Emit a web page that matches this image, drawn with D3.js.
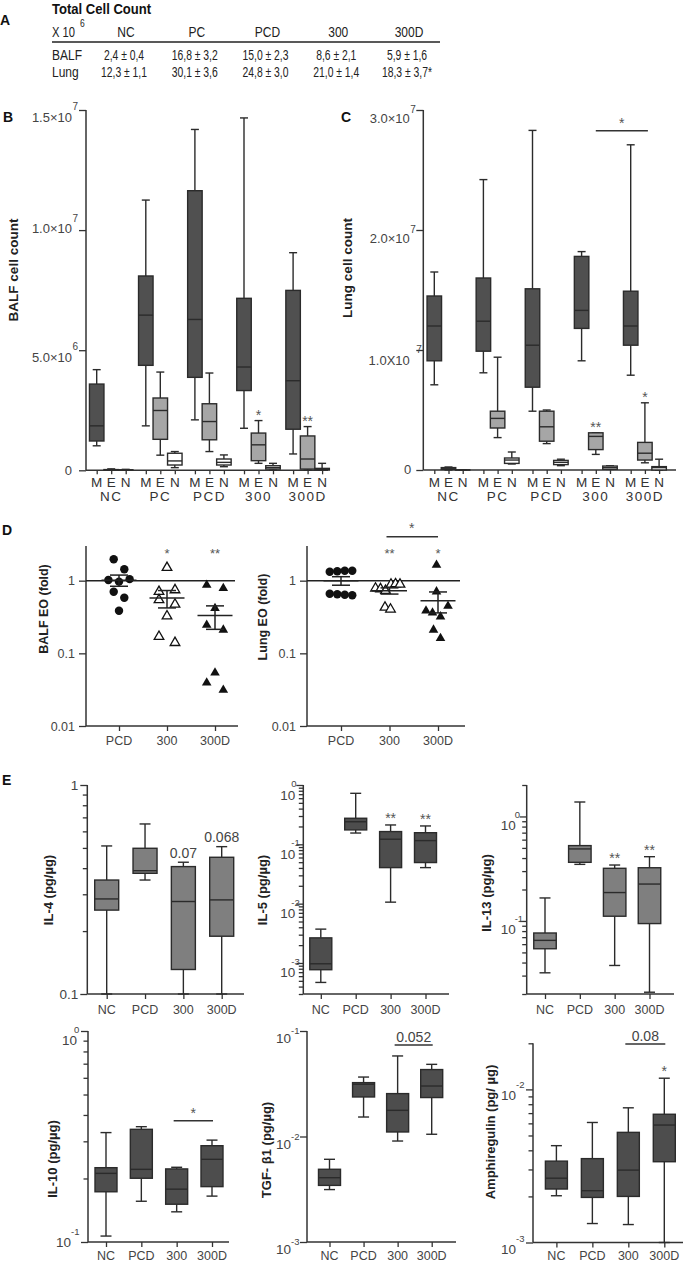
<!DOCTYPE html>
<html><head><meta charset="utf-8">
<script src="https://cdn.jsdelivr.net/npm/d3@7"></script>
<style>
body{margin:0;background:#fff;}
svg{display:block;}
</style></head><body>
<svg id="c" width="685" height="1264"></svg>
<script>
// ================= DATA =================
const tableCols = ["NC","PC","PCD","300","300D"];
const tableRows = ["BALF","Lung"];
const tableBALF = ["2,4 ± 0,4","16,8 ± 3,2","15,0 ± 2,3","8,6 ± 2,1","5,9 ± 1,6"];
const tableLung = ["12,3 ± 1,1","30,1 ± 3,6","24,8 ± 3,0","21,0 ± 1,4","18,3 ± 3,7*"];

const cellGroups = ["NC","PC","PCD","300","300D"];
const cellTypes = ["M","E","N"];
// box stats: [min, q1, median, q3, max]
const balfM = [[1.02e6,1.22e6,1.85e6,3.59e6,4.19e6],[1.85e6,4.37e6,6.46e6,8.09e6,11.25e6],[2.10e6,3.87e6,6.28e6,11.64e6,14.19e6],[1.75e6,3.32e6,4.30e6,7.16e6,14.67e6],[0.68e6,1.71e6,3.73e6,7.49e6,9.06e6]];
const balfE = [[0,0.01e6,0.02e6,0.03e6,0.06e6],[0.63e6,1.29e6,2.49e6,3.01e6,4.09e6],[0.78e6,1.27e6,2.03e6,2.77e6,4.05e6],[0.29e6,0.40e6,1.06e6,1.55e6,2.07e6],[0.01e6,0.05e6,0.47e6,1.43e6,1.82e6]];
const balfN = [[0,0.01e6,0.01e6,0.02e6,0.04e6],[0.11e6,0.22e6,0.39e6,0.71e6,0.78e6],[0.15e6,0.22e6,0.33e6,0.47e6,0.64e6],[0.01e6,0.05e6,0.11e6,0.19e6,0.29e6],[0,0.01e6,0.04e6,0.08e6,0.29e6]];
const balfStarsE = ["","","","*","**"];
const lungM = [[7.1e6,9.1e6,12.0e6,14.5e6,16.5e6],[8.1e6,9.9e6,12.4e6,16.0e6,24.2e6],[4.9e6,6.9e6,10.4e6,15.1e6,28.3e6],[9.1e6,11.8e6,13.3e6,17.8e6,18.2e6],[7.9e6,10.4e6,12.0e6,14.9e6,27.1e6]];
const lungE = [[0,0.05e6,0.1e6,0.2e6,0.25e6],[2.7e6,3.5e6,4.3e6,4.9e6,9.4e6],[2.2e6,2.4e6,3.6e6,4.9e6,5.0e6],[1.3e6,1.7e6,2.8e6,3.1e6,3.1e6],[0.6e6,0.83e6,1.4e6,2.3e6,5.6e6]];
const lungN = [[0,0,0,0,0],[0.5e6,0.55e6,0.83e6,1.0e6,1.5e6],[0.36e6,0.45e6,0.64e6,0.8e6,0.9e6],[0.05e6,0.06e6,0.2e6,0.33e6,0.35e6],[0,0,0.2e6,0.28e6,0.9e6]];
const lungStarsE = ["","","","**","*"];

const eoGroups = ["PCD","300","300D"];
const balfEO = [[1.97,1.44,1.02,0.97,1.05,0.706,0.583,0.386],[1.51,0.706,0.745,0.543,0.473,0.326,0.17,0.14],[0.873,0.785,0.417,0.246,0.21,0.054,0.0394,0.0313]];
const balfEOSpread = [[-1,1,-2,0,2,-1,1,0],[0,-1,1,-1,1,0,-1,1],[-1,1,0,-1,1,0,-1,1]];
const balfEOStars = ["","*","**"];
const lungEO = [[1.33,1.35,1.37,1.37,0.66,0.65,0.64,0.63],[0.786,0.769,0.728,0.892,0.90,0.892,0.43,0.404],[1.645,0.706,0.448,0.386,0.362,0.32,0.21,0.161]];
const lungEOSpread = [[-1.5,-0.5,0.5,1.5,-1.5,-0.5,0.5,1.5],[-2.8,-1.8,-0.8,0.3,1.2,2.1,-0.9,0.2],[-0.3,-0.3,2,-2.4,-1.1,0.5,-0.9,0.5]];
const lungEOStars = ["","**","*"];

const cytoGroups = ["NC","PCD","300","300D"];
const il4  = [[0.1,0.252,0.285,0.351,0.511],[0.351,0.378,0.389,0.498,0.651],[0.1,0.131,0.277,0.407,0.427],[0.1,0.189,0.282,0.451,0.507]];
const il4Notes = ["","","0.07","0.068"];
const il5  = [[0.00047,0.00077,0.00097,0.00265,0.00372],[0.155,0.175,0.24,0.275,0.724],[0.0106,0.0405,0.122,0.164,0.212],[0.0405,0.0493,0.1155,0.157,0.204]];
const il5Notes = ["","","**","**"];
const il13 = [[0.0319,0.0542,0.0652,0.0767,0.166],[0.348,0.364,0.489,0.526,1.375],[0.0375,0.111,0.187,0.319,0.343],[0.0208,0.0944,0.2255,0.323,0.412]];
const il13Notes = ["","","**","**"];
const il10 = [[0.1067,0.173,0.2115,0.225,0.330],[0.156,0.2005,0.221,0.342,0.352],[0.139,0.151,0.178,0.222,0.226],[0.165,0.183,0.2465,0.286,0.304]];
const il10Bar = "*";
const tgf  = [[0.00314,0.00344,0.00407,0.00489,0.00608],[0.0153,0.0237,0.0313,0.0324,0.0366],[0.00906,0.01104,0.0177,0.0255,0.058],[0.0105,0.0234,0.0301,0.0431,0.0483]];
const tgfBar = "0.052";
const amph = [[0.00202,0.002235,0.00263,0.0034,0.00429],[0.00133,0.00197,0.00218,0.00353,0.00608],[0.00131,0.002,0.00297,0.00524,0.00758],[0.001,0.00337,0.00585,0.00688,0.01183]];
const amphNotes = ["","","","*"];
const amphBar = "0.08";

// ================= DRAWING =================
const svg = d3.select("#c");
const FONT = '"Liberation Sans", Arial, Helvetica, sans-serif';
const INK = "#2b2b2b", AX = "#333", LBL = "#444";

function txt(g, x, y, s, o = {}) {
  const t = g.append("text").attr("x", x).attr("y", y).text(s)
    .attr("font-size", o.size || 12).attr("font-weight", o.weight || "normal")
    .attr("fill", o.fill || LBL).attr("text-anchor", o.anchor || "start")
    .attr("font-family", FONT);
  if (o.ls) t.attr("letter-spacing", o.ls);
  if (o.squeeze) {
    const L = t.node().getComputedTextLength();
    t.attr("textLength", L * o.squeeze).attr("lengthAdjust", "spacingAndGlyphs");
  }
  return t;
}
function vtxt(g, x, y, s, o = {}) {
  return g.append("text").attr("transform", `translate(${x},${y}) rotate(-90)`).text(s)
    .attr("font-size", o.size || 13).attr("font-weight", o.weight || "bold")
    .attr("fill", o.fill || "#222").attr("text-anchor", "middle").attr("font-family", FONT);
}
function line(g, x1, y1, x2, y2, w = 1.4, c = AX) {
  return g.append("line").attr("x1", x1).attr("y1", y1).attr("x2", x2).attr("y2", y2)
    .attr("stroke", c).attr("stroke-width", w);
}
function star(g, x, yc, s, size = 14) { // yc = visual centre of asterisk
  return txt(g, x, yc + size * 0.56, s, {size, anchor: "middle", fill: "#555"});
}
function boxes(g, data, xf, w, y, fill, cap) {
  data.forEach((s, i) => {
    const cx = xf(i); const [lo, q1, md, q3, hi] = s;
    const gg = g.append("g");
    line(gg, cx, y(hi), cx, y(q3), 1.4, INK);
    line(gg, cx, y(q1), cx, y(lo), 1.4, INK);
    line(gg, cx - cap / 2, y(hi), cx + cap / 2, y(hi), 1.4, INK);
    line(gg, cx - cap / 2, y(lo), cx + cap / 2, y(lo), 1.4, INK);
    gg.append("rect").attr("x", cx - w / 2).attr("y", y(q3)).attr("width", w)
      .attr("height", Math.max(0.01, y(q1) - y(q3))).attr("fill", fill)
      .attr("stroke", INK).attr("stroke-width", 1.4);
    line(gg, cx - w / 2, y(md), cx + w / 2, y(md), 1.4, INK);
  });
}
function styleAxis(a) {
  a.select(".domain").remove();
  a.selectAll(".tick line").attr("stroke", AX).attr("stroke-width", 1.3);
}

// ---------- Panel A ----------
(function () {
  const g = svg.append("g");
  txt(g, 0, 25, "A", {size: 14, weight: "bold", fill: "#111"});
  txt(g, 52, 14, "Total Cell Count", {size: 15, weight: "bold", fill: "#111", squeeze: 0.87});
  txt(g, 52, 37, "X 10", {size: 14, fill: "#222", squeeze: 0.8});
  txt(g, 80, 27, "6", {size: 10, fill: "#222", squeeze: 0.85});
  const cx = d3.scalePoint().domain(tableCols).range([126, 409]);
  tableCols.forEach(c => txt(g, cx(c), 37, c, {size: 15, anchor: "middle", fill: "#222", squeeze: 0.8}));
  line(g, 52, 42, 440, 42, 1.6, "#222");
  const rowsVals = [tableBALF, tableLung];
  const rowY = d3.scalePoint().domain(tableRows).range([60, 77]);
  tableRows.forEach((r, ri) => {
    txt(g, 52, rowY(r), r, {size: 15, fill: "#222", squeeze: 0.8});
    tableCols.forEach((c, ci) => txt(g, cx(c) - 2, rowY(r), rowsVals[ri][ci], {size: 14, anchor: "middle", fill: "#222", squeeze: 0.74}));
  });
})();

// ---------- Panels B & C ----------
function cellPanel(cfg) {
  const g = svg.append("g");
  txt(g, cfg.letterX, 122, cfg.letter, {size: 14, weight: "bold", fill: "#111"});
  const y = d3.scaleLinear().domain([0, cfg.max]).range([cfg.y0, cfg.y1]);
  const gx = d3.scalePoint().domain(cellGroups).range([cfg.ax + 25.2, cfg.ax + 25.2 + 4 * 49.1]);
  const tx = d3.scalePoint().domain(cellTypes).range([-cfg.slot, cfg.slot]);
  const keys = [], pos = [];
  cellGroups.forEach(gr => cellTypes.forEach(t => { keys.push(gr + "|" + t); pos.push(gx(gr) + tx(t)); }));
  const xs = d3.scaleOrdinal().domain(keys).range(pos);
  g.append("g").attr("transform", `translate(${cfg.ax},0)`)
    .call(d3.axisLeft(y).tickValues(cfg.ticks.map(t => t.v)).tickSize(7).tickSizeOuter(0).tickFormat(""))
    .call(styleAxis);
  line(g, cfg.ax, cfg.y1, cfg.ax, cfg.y0, 1.5);
  cfg.ticks.forEach(t => {
    const yy = y(t.v);
    txt(g, cfg.ax + t.bx, yy + t.by, t.base, {size: 13, anchor: "end"});
    if (t.sup) txt(g, cfg.ax + t.sx, yy + t.sy, t.sup, {size: 10});
  });
  g.append("g").attr("transform", `translate(0,${cfg.y0})`)
    .call(d3.axisBottom(xs).tickSize(4).tickFormat("")).call(styleAxis);
  line(g, cfg.ax, cfg.y0, cfg.xEnd, cfg.y0, 1.5);
  keys.forEach(k => txt(g, xs(k), cfg.y0 + 17, k.split("|")[1], {size: 13.5, anchor: "middle", fill: "#333"}));
  cellGroups.forEach(gr => txt(g, gx(gr), cfg.y0 + 31, gr, {size: 13.5, anchor: "middle", fill: "#333", ls: 1.5}));
  const fills = {M: "#505050", E: "#a6a6a6", N: "#ffffff"};
  const sets = {M: cfg.M, E: cfg.E, N: cfg.N};
  cellTypes.forEach(t => boxes(g, sets[t], i => xs(cellGroups[i] + "|" + t), 14.5, y, fills[t], 8));
  cfg.starsE.forEach((s, i) => { if (s) star(g, xs(cellGroups[i] + "|E"), y(cfg.E[i][4]) - 8.5, s); });
  if (cfg.bar) {
    const x1 = xs(cfg.bar[0] + "|E"), x2 = xs(cfg.bar[1] + "|E") + 3;
    line(g, x1, cfg.bar[2], x2, cfg.bar[2], 1.5);
    star(g, (x1 + x2) / 2, cfg.bar[2] - 11, cfg.bar[3]);
  }
  vtxt(g, cfg.labX, cfg.labY, cfg.label, {size: 13.5});
}
cellPanel({letter: "B", letterX: 3, ax: 86, y0: 470.3, y1: 110, max: 1.5e7, xEnd: 328, slot: 14.5,
  M: balfM, E: balfE, N: balfN, starsE: balfStarsE, label: "BALF cell count", labX: 17.5, labY: 270,
  ticks: [{v: 0, base: "0", bx: -14, by: 4.5},
          {v: 5e6, base: "5.0×10", sup: "6", bx: -14, by: 11.5, sx: -13.5, sy: 0},
          {v: 1e7, base: "1.0×10", sup: "7", bx: -14, by: 2.5, sx: -13.5, sy: -8},
          {v: 1.5e7, base: "1.5×10", sup: "7", bx: -14, by: 11.5, sx: -13.5, sy: 0}]});
cellPanel({letter: "C", letterX: 341, ax: 423.3, y0: 470, y1: 110, max: 3e7, xEnd: 676, slot: 14.2,
  M: lungM, E: lungE, N: lungN, starsE: lungStarsE, label: "Lung cell count", labX: 351.5, labY: 268,
  bar: ["300", "300D", 130.7, "*"],
  ticks: [{v: 0, base: "0", bx: -12, by: 4},
          {v: 1e7, base: "1.0X10", sup: "7", bx: -13.5, by: 15, sx: -7, sy: 2.5},
          {v: 2e7, base: "2.0×10", sup: "7", bx: -13.5, by: 13, sx: -13, sy: 3},
          {v: 3e7, base: "3.0×10", sup: "7", bx: -13.5, by: 13, sx: -13, sy: 3}]});

// ---------- Panel D ----------
txt(svg, 2, 535, "D", {size: 14, weight: "bold", fill: "#111"});
function eoPanel(cfg) {
  const g = svg.append("g");
  const y = d3.scaleLog().domain([0.01, 3]).range([726, 546]);
  const x = d3.scalePoint().domain(eoGroups).range(cfg.xr);
  g.append("g").attr("transform", `translate(${cfg.ax},0)`)
    .call(d3.axisLeft(y).tickValues([0.01, 0.1, 1]).tickSize(7).tickFormat("")).call(styleAxis);
  line(g, cfg.ax, y(3), cfg.ax, y(0.01), 1.5);
  [[1, "1"], [0.1, "0.1"], [0.01, "0.01"]].forEach(([v, s]) => txt(g, cfg.ax - 11, y(v) + 4.5, s, {size: 12.5, anchor: "end"}));
  g.append("g").attr("transform", `translate(0,${y(0.01)})`)
    .call(d3.axisBottom(x).tickSize(5).tickFormat("")).call(styleAxis);
  line(g, cfg.ax, y(0.01), cfg.xEnd, y(0.01), 1.5);
  eoGroups.forEach(gr => txt(g, x(gr), 745, gr, {size: 12.5, anchor: "middle"}));
  line(g, cfg.ax, y(1), cfg.refEnd, y(1), 1.5, "#222");
  const circ = d3.symbol().type(d3.symbolCircle).size(56)();
  const tri = d3.symbol().type(d3.symbolTriangle).size(40)();
  cfg.data.forEach((vals, gi) => {
    vals.forEach((v, j) => {
      const px = x(eoGroups[gi]) + cfg.spread[gi][j] * cfg.unit[gi];
      const p = g.append("path").attr("transform", `translate(${px},${y(v)})`)
        .attr("d", gi === 0 ? circ : tri);
      if (gi === 1) p.attr("fill", "#fff").attr("stroke", "#111").attr("stroke-width", 1.3);
      else p.attr("fill", "#111");
    });
    const m = d3.mean(vals), sem = d3.deviation(vals) / Math.sqrt(vals.length);
    const cx = x(eoGroups[gi]);
    line(g, cx - 17.5, y(m), cx + 17.5, y(m), 1.5, "#222");
    line(g, cx, y(m + sem), cx, y(m - sem), 1.5, "#222");
    line(g, cx - 9, y(m + sem), cx + 9, y(m + sem), 1.5, "#222");
    line(g, cx - 9, y(m - sem), cx + 9, y(m - sem), 1.5, "#222");
    if (cfg.stars[gi]) star(g, cx, 550.5, cfg.stars[gi], 13);
  });
  if (cfg.bar) {
    line(g, x("300") - 3, 536.7, x("300D"), 536.7, 1.5);
    star(g, (x("300") + x("300D")) / 2 - 2, 525.5, "*", 14);
  }
  vtxt(g, cfg.labX, cfg.labY, cfg.label, {size: 12.5});
}
eoPanel({ax: 86, xEnd: 238, refEnd: 235, xr: [119, 215], data: balfEO, spread: balfEOSpread, unit: [5.3, 8, 8.3],
  stars: balfEOStars, label: "BALF EO (fold)", labX: 47.5, labY: 609});
eoPanel({ax: 307, xEnd: 465, refEnd: 460, xr: [341, 438], data: lungEO, spread: lungEOSpread, unit: [7.5, 5, 5],
  stars: lungEOStars, bar: true, label: "Lung EO (fold)", labX: 266.5, labY: 617});

// ---------- Panel E ----------
txt(svg, 2, 785, "E", {size: 14, weight: "bold", fill: "#111"});
function cytoPanel(cfg) {
  const g = svg.append("g");
  const y = d3.scaleLog().domain(cfg.dom).range(cfg.rng);
  const x = d3.scalePoint().domain(cytoGroups).range(cfg.xr);
  const bottom = cfg.rng[0], top = cfg.rng[1];
  if (cfg.minor.length)
    g.append("g").attr("transform", `translate(${cfg.ax},0)`)
      .call(d3.axisLeft(y).tickValues(cfg.minor).tickSize(4.5).tickFormat("")).call(styleAxis);
  g.append("g").attr("transform", `translate(${cfg.ax},0)`)
    .call(d3.axisLeft(y).tickValues(cfg.major.map(t => t.v)).tickSize(7).tickFormat("")).call(styleAxis);
  line(g, cfg.ax, top, cfg.ax, bottom, 1.5);
  cfg.major.forEach(t => {
    const yy = y(t.v), o = t.o || cfg.lab;
    txt(g, cfg.ax + o.bx, yy + o.by, t.base, {size: 13.5, anchor: "end"});
    if (t.sup) txt(g, cfg.ax + o.sx, yy + o.sy, t.sup, {size: 9.5});
  });
  g.append("g").attr("transform", `translate(0,${bottom})`)
    .call(d3.axisBottom(x).tickSize(5).tickFormat("")).call(styleAxis);
  line(g, cfg.ax, bottom, cfg.xEnd, bottom, 1.5);
  cytoGroups.forEach(gr => txt(g, x(gr), cfg.lblY, gr, {size: 12.5, anchor: "middle"}));
  boxes(g, cfg.data, i => x(cytoGroups[i]), cfg.bw, y, cfg.fill, 11);
  if (cfg.notes) cfg.notes.forEach((s, i) => {
    if (!s) return;
    const yt = y(cfg.data[i][4]);
    if (s.startsWith("*")) star(g, x(cytoGroups[i]), yt - 10, s, 14);
    else txt(g, x(cytoGroups[i]), yt - 4.5, s, {size: 14, anchor: "middle"});
  });
  if (cfg.bar) {
    const x1 = x("300") - 3, x2 = x("300D") + 1;
    line(g, x1, cfg.bar.y, x2, cfg.bar.y, 1.5);
    if (cfg.bar.s.startsWith("*")) star(g, (x1 + x2) / 2, cfg.bar.y - 11, cfg.bar.s, 14);
    else txt(g, (x1 + x2) / 2, cfg.bar.y - 3, cfg.bar.s, {size: 14, anchor: "middle"});
  }
  vtxt(g, cfg.labX, cfg.labY, cfg.label, {size: 13});
}
const minorTicks = (lo, hi) => {
  const out = [];
  for (let e = -5; e <= 1; e++) for (let m = 2; m <= 9; m++) {
    const v = m * Math.pow(10, e);
    if (v >= lo * 0.999 && v <= hi * 1.001) out.push(v);
  }
  return out;
};
const GRAY = "#7f7f7f", DARK = "#4d4d4d";
cytoPanel({ax: 87.3, xEnd: 244, xr: [106.7, 221.7], bw: 24, dom: [0.1, 1], rng: [994, 785], fill: GRAY, data: il4,
  minor: minorTicks(0.2, 0.9), lblY: 1014, notes: il4Notes, label: "IL-4 (pg/µg)", labX: 52.5, labY: 890,
  lab: {bx: -9, by: 5, sx: 0, sy: 0}, major: [{v: 1, base: "1"}, {v: 0.1, base: "0.1"}]});
cytoPanel({ax: 303.3, xEnd: 449, xr: [320.8, 425.5], bw: 22, dom: [3e-4, 1], rng: [994, 785], fill: DARK, data: il5,
  minor: minorTicks(3e-4, 0.9), lblY: 1014, notes: il5Notes, label: "IL-5 (pg/µg)", labX: 267, labY: 890,
  lab: {bx: -8, by: 14.5, sx: -12, sy: 2},
  major: [{v: 1, base: "10", sup: "0"}, {v: 0.1, base: "10", sup: "-1"}, {v: 0.01, base: "10", sup: "-2"}, {v: 0.001, base: "10", sup: "-3"}]});
cytoPanel({ax: 526.7, xEnd: 674, xr: [545, 649.5], bw: 22.5, dom: [0.02, 2], rng: [994, 785], fill: GRAY, data: il13,
  minor: minorTicks(0.02, 2), lblY: 1014, notes: il13Notes, label: "IL-13 (pg/µg)", labX: 491, labY: 893,
  lab: {bx: -11, by: 13.5, sx: -12, sy: 1.5},
  major: [{v: 1, base: "10", sup: "0"}, {v: 0.1, base: "10", sup: "-1"}]});
cytoPanel({ax: 88, xEnd: 229, xr: [106, 212], bw: 22, dom: [0.1, 1], rng: [1242, 1031], fill: DARK, data: il10,
  minor: minorTicks(0.2, 0.9), lblY: 1260, bar: {y: 1120.7, s: il10Bar}, label: "IL-10 (pg/µg)", labX: 57, labY: 1159,
  lab: {bx: -11, by: 14, sx: -14, sy: 2},
  major: [{v: 1, base: "10", sup: "0"}, {v: 0.1, base: "10", sup: "-1", o: {bx: -17, by: 5, sx: -17, sy: -7}}]});
cytoPanel({ax: 307, xEnd: 456, xr: [329.5, 431.7], bw: 22, dom: [1e-3, 0.1], rng: [1242, 1031], fill: DARK, data: tgf,
  minor: [], lblY: 1260, bar: {y: 1045, s: tgfBar}, label: "TGF- β1 (pg/µg)", labX: 271, labY: 1150,
  lab: {bx: -16, by: 12, sx: -16, sy: 3},
  major: [{v: 0.1, base: "10", sup: "-1"}, {v: 0.01, base: "10", sup: "-2"}, {v: 0.001, base: "10", sup: "-3"}]});
cytoPanel({ax: 533, xEnd: 683, xr: [556.4, 664.3], bw: 22, dom: [1e-3, 0.02], rng: [1242.5, 1043.3], fill: DARK, data: amph,
  minor: minorTicks(2e-3, 0.02), lblY: 1260, notes: amphNotes, bar: {y: 1044, s: amphBar}, label: "Amphiregulin (pg/ µg)", labX: 495, labY: 1132,
  lab: {bx: -17, by: 11, sx: -17, sy: -1},
  major: [{v: 0.01, base: "10", sup: "-2"}, {v: 0.001, base: "10", sup: "-3"}]});
</script>
</body></html>
